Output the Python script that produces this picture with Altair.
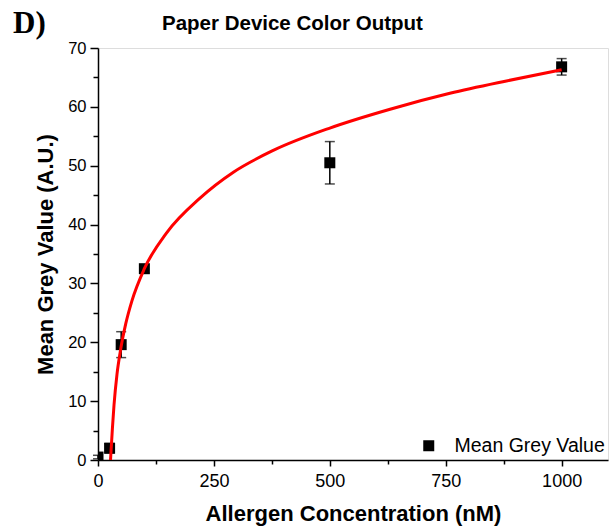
import altair as alt
import pandas as pd

# measured points
conc = [0, 25, 50, 100, 500, 1000]
grey = [0.5, 2.0, 19.6, 32.5, 50.5, 66.8]
sd = [0.3, 0.8, 2.2, 0.7, 3.6, 1.4]

# fitted curve
fit_x = [27, 31, 34.5, 41, 48, 60, 73, 100, 148, 220, 292, 378, 500, 630, 759, 881, 1000]
fit_y = [0, 5.3, 9.3, 14.6, 18.4, 23.2, 27.0, 32.5, 38.6, 44.5, 48.9, 52.6, 56.4, 59.6, 62.3, 64.4, 66.3]

x_major = [0, 250, 500, 750, 1000]
x_minor = [125, 375, 625, 875]
y_major = [0, 10, 20, 30, 40, 50, 60, 70]
y_minor = [5, 15, 25, 35, 45, 55, 65]

series_name = "Mean Grey Value"
chart_title = "Paper Device Color Output"
panel_label = "D)"

df = pd.DataFrame({
    "conc": conc,
    "grey": grey,
    "lo": [g - s for g, s in zip(grey, sd)],
    "hi": [g + s for g, s in zip(grey, sd)],
    "series": [series_name] * len(conc),
})
fit = pd.DataFrame({"x": fit_x, "y": fit_y})

FONT = "Liberation Sans"
xscale = alt.Scale(domain=[0, 1100], nice=False, zero=False)
yscale = alt.Scale(domain=[0, 70], nice=False)

x_axis = alt.Axis(values=x_major, format="d", title="Allergen Concentration (nM)", grid=False,
                  labelFontSize=18, labelFont=FONT, labelColor="black", labelPadding=6,
                  tickSize=6, tickWidth=1.5, tickColor="black",
                  domainColor="black", domainWidth=1.5,
                  titleFont=FONT, titleFontSize=22, titleFontWeight="bold", titleColor="black",
                  titlePadding=13, labelFlush=False)
y_axis = alt.Axis(values=y_major, title="Mean Grey Value (A.U.)", grid=False,
                  labelFontSize=16.5, labelFont=FONT, labelColor="black", labelPadding=4,
                  tickSize=8, tickWidth=1.5, tickColor="black",
                  domainColor="black", domainWidth=1.5,
                  titleFont=FONT, titleFontSize=22, titleFontWeight="bold", titleColor="black",
                  titlePadding=10, labelFlush=False)

base = alt.Chart(df)

err = base.mark_rule(color="black", strokeWidth=1.5).encode(
    x=alt.X("conc:Q", scale=xscale, axis=x_axis),
    y=alt.Y("lo:Q", scale=yscale, axis=y_axis),
    y2="hi:Q",
)
cap_lo = base.mark_tick(color="black", orient="horizontal", size=10, thickness=1.5).encode(
    x="conc:Q", y="lo:Q")
cap_hi = base.mark_tick(color="black", orient="horizontal", size=10, thickness=1.5).encode(
    x="conc:Q", y="hi:Q")

pts = base.mark_square(size=121, filled=True, opacity=1, clip=True).encode(
    x="conc:Q",
    y="grey:Q",
    color=alt.Color("series:N",
                    scale=alt.Scale(domain=[series_name], range=["black"]),
                    legend=alt.Legend(title=None, orient="none", legendX=321, legendY=388,
                                      symbolType="square", symbolSize=121,
                                      symbolStrokeWidth=0, symbolOpacity=1,
                                      labelFontSize=19.5, labelFont=FONT, labelColor="black",
                                      labelOffset=16, padding=0)),
)

line = alt.Chart(fit).mark_line(color="#ff0000", strokeWidth=3, interpolate="monotone", clip=True).encode(
    x="x:Q", y="y:Q")

texts = pd.DataFrame({"t": [panel_label]})
label = alt.Chart(texts).mark_text(
    font="Liberation Serif", fontSize=31, fontWeight="bold", align="left",
    baseline="alphabetic", color="black").encode(
    text="t:N", x=alt.value(-85), y=alt.value(-15))

title = alt.Chart(pd.DataFrame({"t": [chart_title]})).mark_text(
    font=FONT, fontSize=20.5, fontWeight="bold", align="left",
    baseline="alphabetic", color="black").encode(
    text="t:N", x=alt.value(64), y=alt.value(-18))

main = alt.layer(err, cap_lo, cap_hi, pts, line, label, title)

minor = base.mark_point(opacity=0).encode(
    x=alt.X("conc:Q", scale=xscale,
            axis=alt.Axis(values=x_minor, orient="bottom", labels=False, title=None, grid=False,
                          domain=False, tickSize=4, tickWidth=1.5, tickColor="black")),
    y=alt.Y("grey:Q", scale=yscale,
            axis=alt.Axis(values=y_minor, orient="left", labels=False, title=None, grid=False,
                          domain=False, tickSize=5, tickWidth=1.5, tickColor="black")),
)

chart = alt.layer(main, minor).resolve_scale(x="independent", y="independent").properties(
    width=510, height=412,
    autosize=alt.AutoSizeParams(type="none"),
    padding={"left": 98, "top": 48, "right": 5, "bottom": 70},
).configure_view(stroke=None).configure(background="white")

chart.save("out.html", embed_options={"renderer": "svg", "actions": False})
